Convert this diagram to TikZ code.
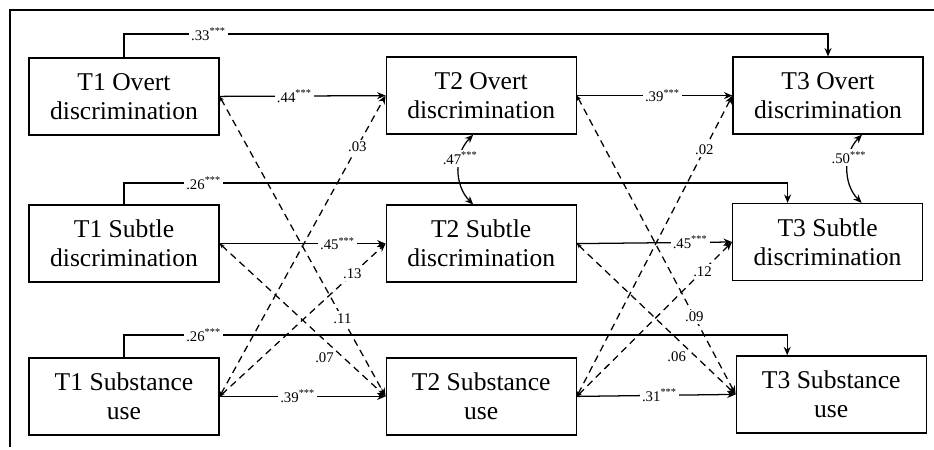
\documentclass[tikz,border=0pt]{standalone}
\usepackage{fontspec}
\setmainfont{Liberation Serif}
\usetikzlibrary{arrows.meta}

\tikzset{
  var/.style={draw, line width=0.9pt, minimum width=4.75cm, minimum height=1.925cm,
    align=center, inner sep=0pt, font=\fontsize{18.2}{20.5}\selectfont},
  lag/.style={line width=0.9pt, -{Stealth[length=6pt,width=5pt]}},
  cross/.style={line width=0.9pt, dash pattern=on 5pt off 3.5pt,
    {Stealth[length=3.5pt,width=3pt]}-{Stealth[length=6pt,width=5pt]}},
  cov/.style={line width=0.9pt, {Stealth[length=6pt,width=5pt]}-{Stealth[length=6pt,width=5pt]}},
  coef/.style={fill=white, inner sep=1.5pt, font=\fontsize{10.5}{12}\selectfont},
}

\begin{document}
\begin{tikzpicture}
\useasboundingbox (0,0) rectangle (23.35,-11.225);
\draw[line width=0.9pt] (23.35,-0.25) -- (0.25,-0.25) -- (0.25,-11.18);

%%   kw   (name)   (x, y)   {text}
    \node[var] (ov1) at (3.1, -2.41)    {T1 Overt\\discrimination};
    \node[var] (st1) at (3.1, -6.09)    {T1 Subtle\\discrimination};
    \node[var] (su1) at (3.1, -9.91)    {T1 Substance\\use};
    \node[var] (ov2) at (12.03, -2.39)  {T2 Overt\\discrimination};
    \node[var] (st2) at (12.03, -6.09)  {T2 Subtle\\discrimination};
    \node[var] (su2) at (12.03, -9.91)  {T2 Substance\\use};
    \node[var] (ov3) at (20.7, -2.39)   {T3 Overt\\discrimination};
    \node[var] (st3) at (20.69, -6.05)  {T3 Subtle\\discrimination};
    \node[var] (su3) at (20.78, -9.86)  {T3 Substance\\use};

    \coordinate (st3in) at ([xshift=-1cm]st3.north);
    \coordinate (su3in) at ([xshift=-1.1cm]su3.north);

%% T1 -> T3
    \draw[lag] (ov1.north) |- (ov3.north |- 0,-0.85) node[coef, pos=0.56] {.33\textsuperscript{***}} -- (ov3.north);
    \draw[lag] (st1.north) |- (st3in |- 0,-4.575) node[coef, pos=0.56] {.26\textsuperscript{***}} -- (st3in);
    \draw[lag] (su1.north) |- (su3in |- 0,-8.375) node[coef, pos=0.56] {.26\textsuperscript{***}} -- (su3in);

%% stability
    \draw[lag] (ov1.east) -- node[coef, pos=0.45] {.44\textsuperscript{***}} (ov2.west);
    \draw[lag] (ov2.east) -- node[coef, pos=0.55] {.39\textsuperscript{***}} (ov3.west);
    \draw[lag] (st1.east) -- node[coef, pos=0.71] {.45\textsuperscript{***}} (st2.west);
    \draw[lag] (st2.east) -- node[coef, pos=0.73] {.45\textsuperscript{***}} (st3.west);
    \draw[lag] (su1.east) -- node[coef, pos=0.47] {.39\textsuperscript{***}} (su2.west);
    \draw[lag] (su2.east) -- node[coef, pos=0.52] {.31\textsuperscript{***}} (su3.west);

%% cross-lagged
    \draw[cross] (su1.east) -- node[coef, pos=0.83] {.03} (ov2.west);
    \draw[cross] (su1.east) -- node[coef, pos=0.8] {.13} (st2.west);
    \draw[cross] (ov1.east) -- node[coef, pos=0.74] {.11} (su2.west);
    \draw[cross] (st1.east) -- node[coef, pos=0.7, anchor=north east, inner sep=1pt, fill=none] {.07} (su2.west);
    \draw[cross] (su2.east) -- node[coef, pos=0.82] {.02} (ov3.west);
    \draw[cross] (su2.east) -- node[coef, pos=0.81] {.12} (st3.west);
    \draw[cross] (ov2.east) -- node[coef, pos=0.74] {.09} (su3.west);
    \draw[cross] (st2.east) -- node[coef, pos=0.7, anchor=north east, inner sep=1pt, fill=none] {.06} (su3.west);

%% covariances
    \draw[cov] ([xshift=-0.2cm]ov2.south) to[bend right=45] node[coef, pos=0.35] {.47\textsuperscript{***}} ([xshift=-0.2cm]st2.north);
    \draw[cov] ([xshift=0.85cm]ov3.south) to[bend right=45] node[coef, pos=0.35] {.50\textsuperscript{***}} ([xshift=0.85cm]st3.north);
\end{tikzpicture}
\end{document}
